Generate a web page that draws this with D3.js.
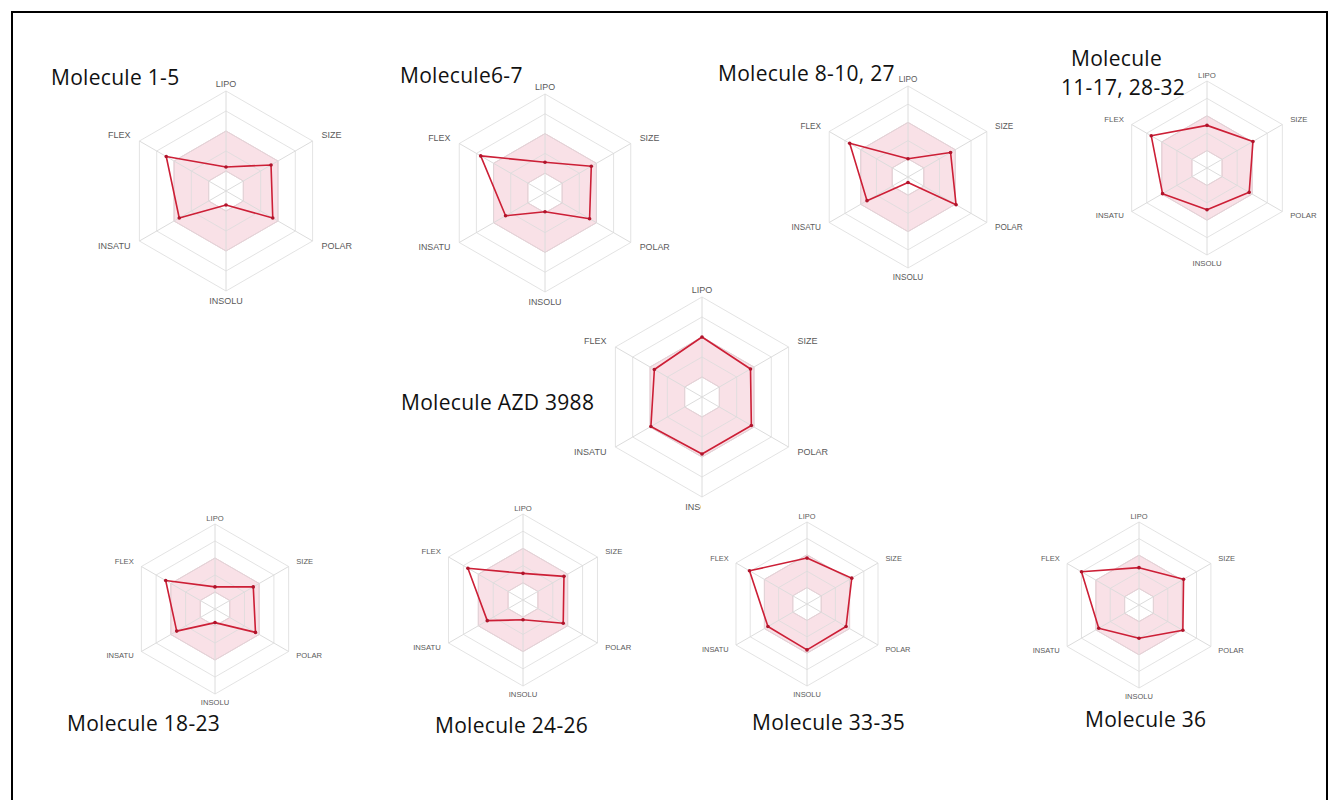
<!DOCTYPE html>
<html>
<head>
<meta charset="utf-8">
<script src="https://cdn.jsdelivr.net/npm/d3@7"></script>
<style>
  body { margin: 0; background: #fff; }
  svg { display: block; }
</style>
</head>
<body>
<script>
// axes of the bioavailability radar, clockwise from the top
var axes = ["LIPO", "SIZE", "POLAR", "INSOLU", "INSATU", "FLEX"];

// chart titles (one entry per line)
var titles = [
    ["Molecule 1-5"],
    ["Molecule6-7"],
    ["Molecule 8-10, 27"],
    ["Molecule", "11-17, 28-32"],
    ["Molecule AZD 3988"],
    ["Molecule 18-23"],
    ["Molecule 24-26"],
    ["Molecule 33-35"],
    ["Molecule 36"]
];

// values as fraction of the radar radius, order = axes
var mol1_5   = [0.24, 0.52, 0.54, 0.14, 0.54, 0.69];
var mol6_7   = [0.31, 0.54, 0.52, 0.19, 0.46, 0.75];
var mol8_10  = [0.20, 0.54, 0.61, 0.06, 0.52, 0.74];
var mol11_17 = [0.49, 0.61, 0.56, 0.48, 0.59, 0.74];
var molAZD   = [0.60, 0.56, 0.57, 0.57, 0.59, 0.55];
var mol18_23 = [0.26, 0.52, 0.55, 0.16, 0.52, 0.67];
var mol24_26 = [0.31, 0.55, 0.54, 0.23, 0.48, 0.74];
var mol33_35 = [0.56, 0.63, 0.55, 0.56, 0.55, 0.81];
var mol36    = [0.45, 0.62, 0.61, 0.40, 0.56, 0.80];

var series = [mol1_5, mol6_7, mol8_10, mol11_17, molAZD, mol18_23, mol24_26, mol33_35, mol36];

// grid rings and the pink "optimal" band
var ringLevels = [0.2, 0.4, 0.6, 0.8, 1.0];
var optimalBand = [0.2, 0.6];

// where each radar sits on the page
var layout = [
    {cx: 226,  cy: 191, r: 100, tx: 51,   ty: [85]},
    {cx: 545,  cy: 193, r: 99,  tx: 400,  ty: [83]},
    {cx: 908,  cy: 177, r: 91,  tx: 718,  ty: [81]},
    {cx: 1207, cy: 168, r: 87,  tx: 1071, ty: [66, 95], tx2: 1061},
    {cx: 702,  cy: 397, r: 100, tx: 401,  ty: [410]},
    {cx: 215,  cy: 609, r: 85,  tx: 67,   ty: [731]},
    {cx: 523,  cy: 600, r: 86,  tx: 435,  ty: [733]},
    {cx: 807,  cy: 604, r: 82,  tx: 752,  ty: [730], cover: [701, 503, 260, 225]},
    {cx: 1139, cy: 605, r: 83,  tx: 1085, ty: [727]}
];

var W = 1338, H = 800;
var svg = d3.select("body").append("svg")
    .attr("width", W)
    .attr("height", H);

svg.append("rect")
    .attr("width", W).attr("height", H)
    .attr("fill", "#fff");

var angle = d3.scaleLinear()
    .domain([0, axes.length])
    .range([0, 2 * Math.PI]);

function hexPoints(rs, lvl) {
    return axes.map(function(a, i) {
        var t = angle(i);
        return [rs(lvl) * Math.sin(t), -rs(lvl) * Math.cos(t)];
    });
}

function drawRadar(k) {
    var L = layout[k];
    var rs = d3.scaleLinear().domain([0, 1]).range([0, L.r]);
    var s = L.r / 100;

    if (L.cover) {
        // the pasted picture of this chart hides what lies under it
        svg.append("rect")
            .attr("x", L.cover[0]).attr("y", L.cover[1])
            .attr("width", L.cover[2]).attr("height", L.cover[3])
            .attr("fill", "#fff");
    }

    var g = svg.append("g")
        .attr("transform", "translate(" + L.cx + "," + L.cy + ")");

    // pink optimal band with the white hole in the middle
    var outer = hexPoints(rs, optimalBand[1]),
        inner = hexPoints(rs, optimalBand[0]);
    g.append("path")
        .attr("d", "M" + outer.join("L") + "Z M" + inner.join("L") + "Z")
        .attr("fill", "#f7d7df")
        .attr("fill-opacity", 0.75)
        .attr("fill-rule", "evenodd")
        .attr("stroke", "#efbcc9")
        .attr("stroke-width", 1);

    // grid rings
    g.selectAll(".ring")
        .data(ringLevels)
        .enter()
        .append("path")
        .attr("class", "ring")
        .attr("d", function(d) { return "M" + hexPoints(rs, d).join("L") + "Z"; })
        .attr("fill", "none")
        .attr("stroke", "#dcdcdc")
        .attr("stroke-opacity", 0.8)
        .attr("stroke-width", 1);

    // spokes
    g.selectAll(".spoke")
        .data(axes)
        .enter()
        .append("line")
        .attr("class", "spoke")
        .attr("x1", 0).attr("y1", 0)
        .attr("x2", function(d, i) { return rs(1) * Math.sin(angle(i)); })
        .attr("y2", function(d, i) { return -rs(1) * Math.cos(angle(i)); })
        .attr("stroke", "#dcdcdc")
        .attr("stroke-width", 1);

    // axis labels
    g.selectAll(".axisLabel")
        .data(axes)
        .enter()
        .append("text")
        .attr("class", "axisLabel")
        .attr("font-family", "Liberation Sans, Arial, sans-serif")
        .attr("font-size", (9 * s).toFixed(1) + "px")
        .attr("fill", "#5a5a5a")
        .attr("text-anchor", function(d, i) {
            var sn = Math.sin(angle(i));
            return Math.abs(sn) < 0.01 ? "middle" : (sn > 0 ? "start" : "end");
        })
        .attr("x", function(d, i) {
            var sn = Math.sin(angle(i));
            var x = rs(1) * sn;
            if (Math.abs(sn) < 0.01) return 0;
            return x + (sn > 0 ? 9 : -9) * s;
        })
        .attr("y", function(d, i) {
            var cs = Math.cos(angle(i));
            var y = -rs(1) * cs;
            if (cs > 0.99) return y - 4 * s;
            if (cs < -0.99) return y + 13 * s;
            return cs > 0 ? y - 3 * s : y + 8 * s;
        })
        .text(function(d) { return d; });

    // molecule polygon
    var radial = d3.lineRadial()
        .angle(function(d, i) { return angle(i); })
        .radius(function(d) { return rs(d); })
        .curve(d3.curveLinearClosed);

    g.append("path")
        .datum(series[k])
        .attr("d", radial)
        .attr("fill", "none")
        .attr("stroke", "#cc1f36")
        .attr("stroke-width", 1.6)
        .attr("stroke-linejoin", "round");

    g.selectAll(".pt")
        .data(series[k])
        .enter()
        .append("circle")
        .attr("class", "pt")
        .attr("cx", function(d, i) { return rs(d) * Math.sin(angle(i)); })
        .attr("cy", function(d, i) { return -rs(d) * Math.cos(angle(i)); })
        .attr("r", 1.8)
        .attr("fill", "#b0142b");

    // title
    titles[k].forEach(function(line, j) {
        svg.append("text")
            .attr("x", j > 0 && L.tx2 ? L.tx2 : L.tx)
            .attr("y", L.ty[j])
            .attr("font-family", "Open Sans, sans-serif")
            .attr("font-size", "21px")
            .attr("letter-spacing", "0.3px")
            .attr("fill", "#111")
            .text(line);
    });
}

for (var k = 0; k < layout.length; k++) {
    drawRadar(k);
}

// frame round the whole figure
svg.append("rect")
    .attr("x", 12).attr("y", 12)
    .attr("width", 1315).attr("height", 800)
    .attr("fill", "none")
    .attr("stroke", "#000")
    .attr("stroke-width", 2);
</script>
</body>
</html>
